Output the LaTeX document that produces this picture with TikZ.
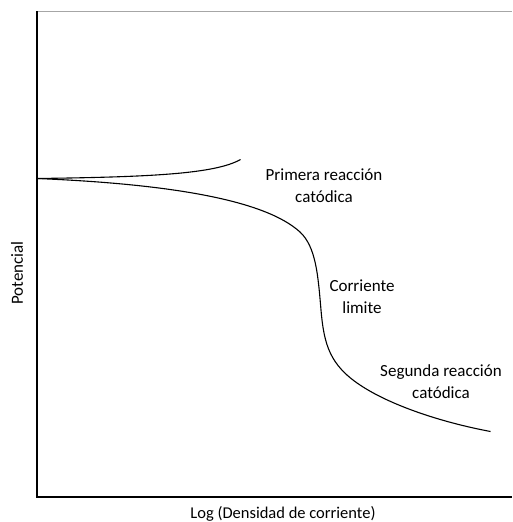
\documentclass[tikz,border=0pt]{standalone}
\usepackage{fontspec}
\setmainfont{Carlito}
\begin{document}
\begin{tikzpicture}[x=1pt,y=-1pt,
  lbl/.style={font=\fontsize{17}{22}\selectfont, align=center, inner sep=0pt},
  axis/.style={line width=2pt, black},
  curve/.style={line width=1.1pt, black}]
\useasboundingbox (0,0) rectangle (512,522);
\coordinate (top) at (37,11);
\coordinate (origin) at (37,497);
\coordinate (xend) at (512,497);
\coordinate (tr) at (512,11);
\draw[gray!70, line width=0.8pt] (top) -- (tr);
\draw[axis] (top) -- (origin) -- (xend);
\coordinate (E0) at (37,178.5);
\coordinate (A) at (240.5,159.5);
\coordinate (K1) at (300,232);
\coordinate (K2) at (321,310);
\coordinate (K3) at (360,385);
\coordinate (B) at (490.5,431.5);
\draw[curve] (E0) .. controls (150,177) and (215,174) .. (A);
\draw[curve] (E0) .. controls (170,184) and (265,200) .. (K1)
  .. controls (316,247) and (318,275) .. (K2)
  .. controls (324,345) and (330,365) .. (K3)
  .. controls (390,405) and (440,422) .. (B);
\node[lbl] (p1) at (324,186) {Primera reacción\\catódica};
\node[lbl] (p2) at (362,297) {Corriente\\limite};
\node[lbl] (p3) at (441,382) {Segunda reacción\\catódica};
\node[lbl, rotate=90] (ylab) at (17,273) {Potencial};
\node[lbl, font=\fontsize{16.5}{20}\selectfont, anchor=base] (xlab) at (283,518.5) {Log (Densidad de corriente)};
\end{tikzpicture}
\end{document}
